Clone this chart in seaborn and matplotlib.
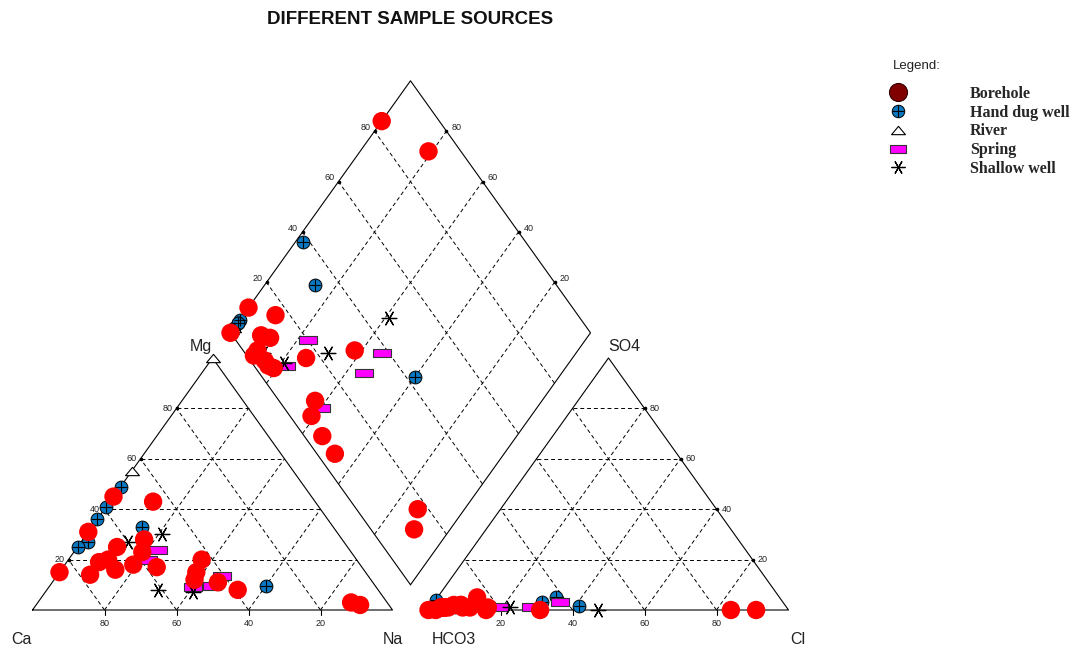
import numpy as np
import pandas as pd
import matplotlib
matplotlib.use("Agg")
import matplotlib.pyplot as plt
from matplotlib.path import Path
from matplotlib.lines import Line2D
from matplotlib.legend_handler import HandlerTuple
import seaborn as sns

# one row per water sample: source, cation % (Mg, Na+K), anion % (SO4, Cl)
# Ca and HCO3 are the remainders to 100 %
source = (["Borehole"] * 20 + ["Hand dug well"] * 7 + ["River"] * 2
          + ["Spring"] * 5 + ["Shallow well"] * 4)
mg = [45, 31, 15, 19, 14, 25, 20, 43, 16, 28, 18, 23, 17, 20, 15, 12, 11, 8, 3, 2,
      49, 41, 36, 33, 27, 25, 9.5,
      100, 55,
      24, 20, 9, 9.5, 13.5,
      30, 8, 7, 27]
na = [0, 0, 0, 9, 9, 11, 11, 12, 15, 17, 19, 19, 26, 37, 38, 39, 46, 53, 87, 90,
      0, 0, 0, 14, 2, 0, 60,
      0, 0,
      23, 22, 40, 45, 46,
      21, 31, 41, 13]
so4 = [0, 2, 0, 5, 2, 0, 1, 2, 1, 1, 0, 1, 0, 1, 0, 1, 1, 1, 1, 1,
       2, 4, 1, 3, 5, 2, 1.5,
       0, 1,
       1, 1, 1, 1, 3,
       1, 1, 0, 1]
cl = [84, 8, 0, 11, 6, 2, 3, 8, 3, 3, 91, 4, 16, 9, 31, 5, 4, 4, 16, 11,
      3, 0, 1, 30, 33, 2, 41,
      1, 1,
      19, 8, 9, 28, 35,
      8, 22, 47, 4]

ticks = [20, 40, 60, 80]
order = ["Hand dug well", "River", "Spring", "Shallow well", "Borehole"]
legend_order = ["Borehole", "Hand dug well", "River", "Spring", "Shallow well"]

GAP = 0.1  # gap between the triangles, in triangle widths


def cation_xy(mg, na):
    mg, na = np.asarray(mg) / 100, np.asarray(na) / 100
    return na + 0.5 * mg, mg


def anion_xy(so4, cl):
    so4, cl = np.asarray(so4) / 100, np.asarray(cl) / 100
    return 1 + GAP + cl + 0.5 * so4, so4


def diamond_xy(camg, so4cl):
    u, v = np.asarray(camg) / 100, np.asarray(so4cl) / 100
    return 1 + GAP / 2 + 0.5 * (v - u), GAP + u + v


df = pd.DataFrame({"source": source, "mg": mg, "na": na, "so4": so4, "cl": cl})
parts = []
for fx, a, b in [(cation_xy, "mg", "na"), (anion_xy, "so4", "cl")]:
    x, y = fx(df[a], df[b])
    parts.append(pd.DataFrame({"source": df["source"], "x": x, "y": y}))
x, y = diamond_xy(100 - df["na"], df["so4"] + df["cl"])
parts.append(pd.DataFrame({"source": df["source"], "x": x, "y": y}))
pts = pd.concat(parts, ignore_index=True)

sns.set_style("white")
plt.rcParams["font.family"] = ["Liberation Sans", "DejaVu Sans"]

W, H = 1073, 650
fig = plt.figure(figsize=(W / 100, H / 100), dpi=100)
ax = fig.add_axes([0, 0, 1, 1])
ax.set_xlim(-32.5 / 360, (W - 32.5) / 360)
ax.set_ylim(-(H - 610) / 252, 610 / 252)
ax.axis("off")

line_kw = dict(color="black", lw=0.8)
grid_kw = dict(color="black", lw=0.7, linestyle=(0, (4, 3)))

# triangle and diamond outlines
for fx in (cation_xy, anion_xy):
    ax.plot(*fx([0, 0, 100, 0], [0, 100, 0, 0]), **line_kw)
ax.plot(*diamond_xy([0, 100, 100, 0, 0], [0, 0, 100, 100, 0]), **line_kw)

# dashed grids
for p in ticks:
    q = 100 - p
    for fx in (cation_xy, anion_xy):
        ax.plot(*fx([p, p], [0, q]), **grid_kw)
        ax.plot(*fx([0, q], [p, p]), **grid_kw)
        ax.plot(*fx([0, q], [q, 0]), **grid_kw)
    ax.plot(*diamond_xy([p, p], [0, 100]), **grid_kw)
    ax.plot(*diamond_xy([0, 100], [p, p]), **grid_kw)

# tick labels and small tick marks
tk = dict(fontsize=6.5, color="#222222")
for p in ticks:
    x, y = cation_xy(0, 100 - p)
    ax.plot([x, x], [y, y - 0.018], **line_kw)
    ax.text(x, y - 0.035, str(p), ha="center", va="top", **tk)
    x, y = cation_xy(p, 0)
    ax.plot(x, y, marker="o", ms=1.6, color="black")
    ax.text(x - 0.012, y, str(p), ha="right", va="center", **tk)
    x, y = anion_xy(0, p)
    ax.plot([x, x], [y, y - 0.018], **line_kw)
    ax.text(x, y - 0.035, str(p), ha="center", va="top", **tk)
    x, y = anion_xy(p, 100 - p)
    ax.plot(x, y, marker="o", ms=1.6, color="black")
    ax.text(x + 0.014, y, str(p), ha="left", va="center", **tk)
    x, y = diamond_xy(100, p)
    ax.plot(x, y, marker="o", ms=1.6, color="black")
    ax.text(x - 0.012, y + 0.015, str(p), ha="right", va="center", **tk)
    x, y = diamond_xy(p, 100)
    ax.plot(x, y, marker="o", ms=1.6, color="black")
    ax.text(x + 0.014, y + 0.015, str(p), ha="left", va="center", **tk)

# corner labels
lab = dict(fontsize=11.5, color="#222222", va="center", ha="center")
ax.text(-0.03, -0.119, "Ca", **lab)
ax.text(1.0, -0.119, "Na", **lab)
ax.text(0.468, 1.045, "Mg", **lab)
ax.text(1 + GAP + 0.07, -0.119, "HCO3", **lab)
ax.text(1 + GAP + 0.545, 1.045, "SO4", **lab)
ax.text(2 + GAP + 0.025, -0.119, "Cl", **lab)

rect = Path([(-1, -0.5), (1, -0.5), (1, 0.5), (-1, 0.5), (-1, -0.5)],
            [Path.MOVETO, Path.LINETO, Path.LINETO, Path.LINETO, Path.CLOSEPOLY])
tri = Path([(-1, -0.6), (1, -0.6), (0, 0.6), (-1, -0.6)],
           [Path.MOVETO, Path.LINETO, Path.LINETO, Path.CLOSEPOLY])
star = (6, 2, 90)
blue = "#0A78C0"

styles = {
    "Borehole": dict(marker="o", color="#FF0000", edgecolor="none", s=175),
    "Hand dug well": dict(marker="o", color=blue, edgecolor="black", linewidth=0.7, s=85),
    "River": dict(marker=tri, color="white", edgecolor="black", linewidth=0.8, s=100),
    "Spring": dict(marker=rect, color="#FF00FF", edgecolor="#333333", linewidth=0.8, s=150),
    "Shallow well": dict(marker=star, color="black", linewidth=0.9, s=110),
}

for name in order:
    sub = pts[pts["source"] == name]
    sns.scatterplot(data=sub, x="x", y="y", ax=ax, legend=False, zorder=3, **styles[name])
    if name == "Hand dug well":
        sns.scatterplot(data=sub, x="x", y="y", ax=ax, legend=False, zorder=3,
                        marker="+", color="black", linewidth=0.8, s=85)

fig.text(410.5 / W, 1 - 20 / H, "DIFFERENT SAMPLE SOURCES", ha="center", va="center",
         fontsize=13.5, fontweight="bold", color="#111111")
fig.text(893 / W, 1 - 66 / H, "Legend:", ha="left", va="center", fontsize=9.5,
         color="#222222")

handles = [
    Line2D([], [], ls="", marker="o", markersize=13, markerfacecolor="#800000",
           markeredgecolor="#300000", markeredgewidth=0.8),
    (Line2D([], [], ls="", marker="o", markersize=9, markerfacecolor=blue,
            markeredgecolor="black", markeredgewidth=0.7),
     Line2D([], [], ls="", marker="+", markersize=9, color="black", markeredgewidth=0.8)),
    Line2D([], [], ls="", marker=tri, markersize=10, markerfacecolor="white",
           markeredgecolor="black", markeredgewidth=0.8),
    Line2D([], [], ls="", marker=rect, markersize=12, markerfacecolor="#FF00FF",
           markeredgecolor="#333333", markeredgewidth=0.8),
    Line2D([], [], ls="", marker=star, markersize=10, color="black",
           markeredgewidth=0.9),
]
fig.legend(handles, legend_order, loc="upper left", bbox_to_anchor=(878 / W, 1 - 70 / H),
           frameon=False,
           prop={"family": ["Liberation Serif"], "weight": "bold", "size": 11.5},
           handler_map={tuple: HandlerTuple(ndivide=1)},
           handlelength=0.5, handletextpad=4.25, labelspacing=0.17, borderpad=0.5)

fig.savefig("out.png", dpi=100)
